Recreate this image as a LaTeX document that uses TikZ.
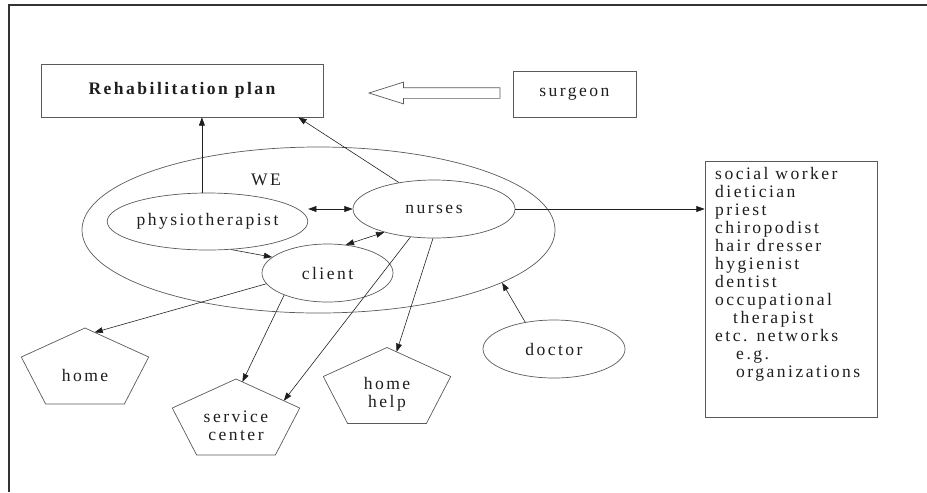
\documentclass[tikz,border=0pt]{standalone}
\usepackage{fontspec}
\setmainfont{Liberation Serif}[LetterSpace=14]
\usepackage{tikz}
\usetikzlibrary{arrows.meta,calc,shapes.geometric,shapes.arrows}
\definecolor{FrameGray}{HTML}{333333}
\definecolor{LineGray}{HTML}{5a5a5a}
\definecolor{TextGray}{HTML}{1e1e1e}

\begin{document}
\begin{tikzpicture}[x=0.03cm,y=0.03cm,
    every node/.style={font=\fontsize{15}{15.4}\selectfont,text=TextGray},
    box/.style={draw=LineGray,line width=0.6pt,rectangle,inner sep=0pt},
    oval/.style={draw=LineGray,line width=0.6pt,ellipse,inner sep=0pt},
    pent/.style={draw=LineGray,line width=0.6pt},
    link/.style={draw=TextGray,line width=0.5pt,-{Triangle[length=7pt,width=5pt]}},
    twolink/.style={link,{Triangle[length=7pt,width=5pt]}-{Triangle[length=7pt,width=5pt]}}]
    \useasboundingbox (0,0) rectangle (927,-492);
    \draw[FrameGray,line width=1.6pt] (9,-492) -- (9,-5) -- (927,-5);

    \node[box,minimum width=8.46cm,minimum height=1.59cm,font=\fontsize{15}{15.4}\selectfont\bfseries] (plan) at (182,-90.5) {Rehabilitation plan};
    \node[box,minimum width=3.69cm,minimum height=1.38cm] (surgeon) at (574.5,-94) {surgeon};
    \node[single arrow,draw=LineGray,line width=0.6pt,shape border rotate=180,minimum height=3.93cm,
        inner xsep=0pt,inner ysep=0.15cm,single arrow head extend=0.165cm,single arrow tip angle=35] (bigarrow) at (443,-93) {};

    \node[oval,minimum width=14.19cm,minimum height=4.98cm] (we) at (318.5,-230) {};
    \node (welabel) at (266,-180) {WE};
    \node[oval,minimum width=5.13cm,minimum height=1.71cm] (physio) at (207.5,-221.5) {physiotherapist};
    \node[oval,minimum width=4.86cm,minimum height=1.74cm] (nurses) at (434,-209) {nurses};
    \node[oval,minimum width=3.93cm,minimum height=1.74cm] (client) at (327.5,-273) {client};
    \node[oval,minimum width=4.26cm,minimum height=1.74cm] (doctor) at (554,-349) {doctor};

    \node[box,minimum width=5.16cm,minimum height=7.68cm] (others) at (791,-289) {};
    \node[anchor=north west,align=left,inner sep=0pt] (otherslist) at (715,-167) {social worker\\
        dietician\\
        priest\\
        chiropodist\\
        hair dresser\\
        hygienist\\
        dentist\\
        occupational\\
        \hspace*{0.54cm}therapist\\
        etc. networks\\
        \hspace*{0.63cm}e.g.\\
        \hspace*{0.63cm}organizations};

    \node (home) at (85,-375) {home};
    \node[align=center] (service) at (236,-426) {service\\center};
    \node[align=center] (homehelp) at (387,-394.5) {home\\help};
    \foreach \p in {home,service,homehelp}{
        \foreach \a [count=\i] in {90,18,-54,-126,162}
            \coordinate (\p\i) at ($(\p)+(0,5)+(\a:67 and 42)$);
        \draw[pent] (\p1) -- (\p2) -- (\p3) -- (\p4) -- (\p5) -- cycle;
    }

    \draw[link] (physio.101) -- (physio.101 |- plan.south);
    \draw[link] (nurses.143) -- (plan.-13);
    \draw[twolink] (physio.east |- nurses.west) -- (nurses.west);
    \draw[twolink] (client.57) -- (nurses.205);
    \draw[link] (physio.-50) -- (client.164);
    \draw[link] (nurses.east) -- (nurses.east -| others.west);
    \draw[link] (doctor.137) -- (we.-16);
    \draw[link] (client.190) -- ($(home1)!0.15!(home2)$);
    \draw[link] (client.207) -- ($(service1)!0.1!(service2)$);
    \draw[link] (nurses.230) -- ($(service1)!0.75!(service2)$);
    \draw[link] (nurses.268) -- ($(homehelp1)!0.15!(homehelp2)$);
\end{tikzpicture}
\end{document}
